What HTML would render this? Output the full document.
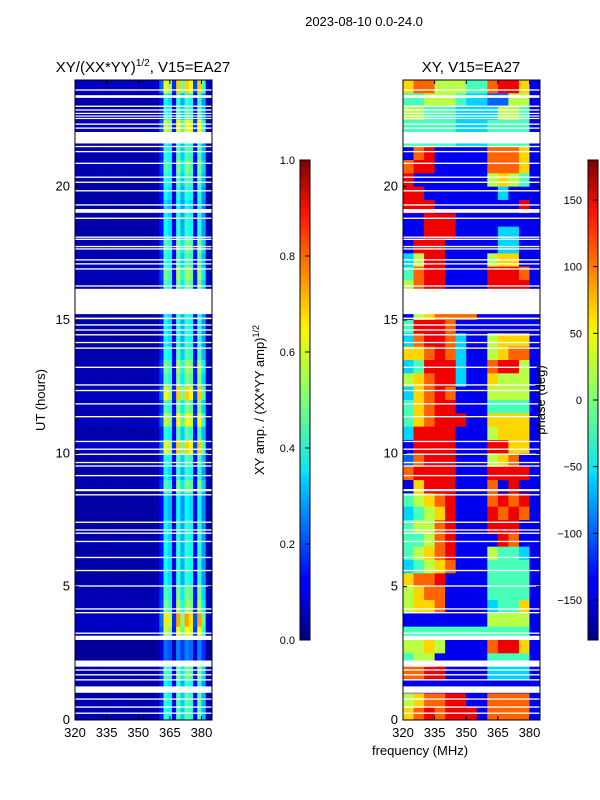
<!DOCTYPE html>
<html><head><meta charset="utf-8">
<style>
body{margin:0;background:#fff;}
svg{display:block;font-family:"Liberation Sans","DejaVu Sans",sans-serif;}
</style></head>
<body>
<svg id="fig" width="600" height="800" viewBox="0 0 600 800" xmlns="http://www.w3.org/2000/svg">
<defs>
<linearGradient id="jet" x1="0" y1="1" x2="0" y2="0">
<stop offset="0" stop-color="#00007f"/><stop offset="0.11" stop-color="#0000ff"/>
<stop offset="0.125" stop-color="#0000ff"/><stop offset="0.34" stop-color="#00d4ff"/>
<stop offset="0.35" stop-color="#0ae4f4"/><stop offset="0.5" stop-color="#7dff7a"/>
<stop offset="0.64" stop-color="#f4f802"/><stop offset="0.66" stop-color="#ffea00"/>
<stop offset="0.89" stop-color="#ff1300"/><stop offset="1" stop-color="#7f0000"/>
</linearGradient>
</defs>
<text x="364" y="26" font-size="13" text-anchor="middle">2023-08-10 0.0-24.0</text>
<text x="143" y="72" font-size="15" text-anchor="middle">XY/(XX*YY)<tspan font-size="10" dy="-6">1/2</tspan><tspan dy="6">, V15=EA27</tspan></text>
<text x="471" y="72" font-size="15" text-anchor="middle">XY, V15=EA27</text>
<g id="ampPanel"></g>
<g id="phasePanel"></g>
<g id="axes"></g>
<text transform="translate(45,400) rotate(-90)" font-size="13" text-anchor="middle">UT (hours)</text>
<text x="420" y="755" font-size="13" text-anchor="middle">frequency (MHz)</text>
<rect x="300" y="160" width="10" height="480" fill="url(#jet)" stroke="#000" stroke-width="1"/>
<rect x="588" y="160" width="10" height="480" fill="url(#jet)" stroke="#000" stroke-width="1"/>
<text transform="translate(264,400) rotate(-90)" font-size="13" text-anchor="middle">XY amp. / (XX*YY amp)<tspan font-size="9" dy="-5">1/2</tspan></text>
<text transform="translate(545,400) rotate(-90)" font-size="13" text-anchor="middle">phase (deg)</text>
<g id="cbars"></g>
</svg>
<script>
// ---- data ----
const freqEdgesAmp = [320,322,324,326,328,330,332,334,336,338,340,342,344,346,348,350,352,354,356,358,360,362,364,366,368,370,372,374,376,378,380,382,384,386];
const ampColumnProfile = [0.04,0.04,0.04,0.04,0.04,0.04,0.04,0.04,0.04,0.04,0.04,0.04,0.04,0.04,0.04,0.04,0.04,0.04,0.04,0.05,0.14,0.38,0.34,0.1,0.42,0.3,0.42,0.38,0.12,0.42,0.28,0.05,0.04];
// row gains, top (24h) to bottom (0h), 0.5h rows
const ampRowGainTopDown = [1.6,1.0,1.1,1.5,1.0,1.1,1.2,1.1,1.0,0.9,1.0,1.0,1.2,1.1,1.3,1.2,1.0,1.0,1.0,1.0,1.1,1.3,1.2,1.6,1.2,1.5,1.1,1.6,1.1,1.0,1.2,0.9,0.9,1.0,1.0,1.0,1.0,1.0,1.2,1.3,1.7,1.5,0.6,0.6,1.2,1.0,1.1,1.1];
const freqEdgesPhase = [320,325,330,335,340,345,350,355,360,365,370,375,380,385];
// phase levels 0..9 -> -180..180, rows top (24h) to bottom (0h)
const phaseLevels = [-175,-140,-100,-60,-20,20,60,100,140,175];
const phaseRowsTopDown = [
"6775554478861","4455543322551","5544433335541","4444433344441","4444433344441",
"1781111177761","7881111177761","8111111156541","8811111113111","8881111111181",
"1188811111111","1188811113311","1888111113311","3588111156611","4788111188871",
"5788111188881","5788111188881","1567777111111","4888711111111","3788731156661",
"6678731156771","3488831178851","5678831165551","3678711155551","4678811144441",
"4678881166661","3888811156661","1888811188661","2788811156711","7888811188881",
"1688811171811","4567811178781","3456811187871","4557811188811","4457811118711",
"4567811154431","3456711144441","6778111144441","5677111144441","5667111134461",
"1111111155551","4444444444441","5565111178861","4551111144441","7788111133331",
"1111111111111","5677881177771","6787888177771"];
// blank (flagged) time ranges in hours
const gapStart = [23.60,23.33,22.99,22.85,22.73,22.63,22.54,22.32,22.17,21.62,21.48,21.29,20.85,20.33,20.14,19.82,19.29,19.02,18.79,18.08,18.00,17.73,17.64,17.23,17.08,16.89,16.25,15.22,15.03,14.79,14.60,14.42,14.13,13.92,13.20,12.54,12.33,11.83,11.35,10.42,10.13,9.94,9.63,9.50,9.14,8.58,8.42,7.39,7.10,6.98,6.67,6.07,5.58,5.00,4.14,4.00,3.23,3.00,2.00,1.85,1.67,1.48,1.02,0.76,0.46,0.23];
const gapEnd   = [23.65,23.43,23.04,22.90,22.77,22.67,22.58,22.37,22.22,22.05,21.53,21.34,20.90,20.38,20.19,19.87,19.34,19.16,18.84,18.13,18.05,17.78,17.69,17.28,17.13,16.94,16.30,16.17,15.09,14.84,14.65,14.47,14.18,13.97,13.25,12.59,12.38,11.88,11.40,10.47,10.18,9.99,9.68,9.55,9.19,8.66,8.47,7.44,7.15,7.03,6.72,6.12,5.63,5.05,4.19,4.05,3.28,3.16,2.23,1.90,1.72,1.53,1.26,0.81,0.51,0.28];
const yTicks = [0,5,10,15,20];
const xTicks = [320,335,350,365,380];
const ampCbTicks = [0.0,0.2,0.4,0.6,0.8,1.0];
const phaseCbTicks = [-150,-100,-50,0,50,100,150];

// ---- scales ----
const NS="http://www.w3.org/2000/svg";
const PY0=80, PY1=720;
const yScale = h => PY1 - (h/24)*(PY1-PY0);
const panels = [{x0:75,x1:212},{x0:403,x1:540}];
const xScale = (p,f) => p.x0 + (f-320)/(385-320)*(p.x1-p.x0);
function jet(v){v=Math.max(0,Math.min(1,v));
 const r=Math.min(4*v-1.5,-4*v+4.5),g=Math.min(4*v-0.5,-4*v+3.5),b=Math.min(4*v+0.5,-4*v+2.5);
 const c=x=>Math.round(255*Math.max(0,Math.min(1,x)));return `rgb(${c(r)},${c(g)},${c(b)})`;}
function mk(tag,attrs,parent){const e=document.createElementNS(NS,tag);for(const k in attrs)e.setAttribute(k,attrs[k]);parent.appendChild(e);return e;}

// amp heatmap
const gA=document.getElementById('ampPanel');
ampRowGainTopDown.forEach((g,i)=>{
 const tTop=24-i*0.5, tBot=tTop-0.5;
 for(let c=0;c<ampColumnProfile.length;c++){
  const xa=xScale(panels[0],freqEdgesAmp[c]), xb=Math.min(xScale(panels[0],freqEdgesAmp[c+1]),panels[0].x1);
  if(xb<=xa) continue;
  const r=mk('rect',{x:xa,y:yScale(tTop),width:xb-xa+0.3,height:yScale(tBot)-yScale(tTop)+0.3,fill:jet(ampColumnProfile[c]*g)},gA);
  
  
 }
});
// phase heatmap
const gP=document.getElementById('phasePanel');
phaseRowsTopDown.forEach((row,i)=>{
 const tTop=24-i*0.5, tBot=tTop-0.5;
 for(let c=0;c<row.length;c++){
  const ph=phaseLevels[+row[c]];
  const xa=xScale(panels[1],freqEdgesPhase[c]), xb=Math.min(xScale(panels[1],freqEdgesPhase[c+1]),panels[1].x1);
  const r=mk('rect',{x:xa,y:yScale(tTop),width:xb-xa+0.3,height:yScale(tBot)-yScale(tTop)+0.3,fill:jet((ph+180)/360)},gP);
  
  
 }
});
// gaps
const gAx=document.getElementById('axes');
panels.forEach(p=>{
 gapStart.forEach((s,i)=>{
  const r=mk('rect',{x:p.x0,y:yScale(gapEnd[i]),width:p.x1-p.x0,height:Math.max(1.2,yScale(s)-yScale(gapEnd[i])),fill:'#fff'},gAx);
  
  
 });
});
// axes frames and ticks
panels.forEach((p,pi)=>{
 const f=mk('rect',{x:p.x0,y:PY0,width:p.x1-p.x0,height:PY1-PY0,fill:'none',stroke:'#000','stroke-width':1},gAx);
 
 
 yTicks.forEach(t=>{
  const y=yScale(t);
  mk('line',{x1:p.x0,x2:p.x0+4,y1:y,y2:y,stroke:'#000'},gAx);
  mk('line',{x1:p.x1,x2:p.x1-4,y1:y,y2:y,stroke:'#000'},gAx);
  const tx=mk('text',{x:p.x0-5,y:y+4,'font-size':13,'text-anchor':'end'},gAx);
  tx.textContent=t;
  
  
 });
 xTicks.forEach(t=>{
  const x=xScale(p,t);
  mk('line',{x1:x,x2:x,y1:PY1,y2:PY1-4,stroke:'#000'},gAx);
  mk('line',{x1:x,x2:x,y1:PY0,y2:PY0+4,stroke:'#000'},gAx);
  const tx=mk('text',{x:x,y:PY1+17,'font-size':13,'text-anchor':'middle'},gAx);
  tx.textContent=t;
  
  
 });
});
// colorbar ticks
const gC=document.getElementById('cbars');
ampCbTicks.forEach(t=>{
 const y=640-t*480;
 mk('line',{x1:305,x2:310,y1:y,y2:y,stroke:'#000'},gC);
 const tx=mk('text',{x:295,y:y+4,'font-size':11,'text-anchor':'end'},gC);
 tx.textContent=t.toFixed(1);
 
 
});
phaseCbTicks.forEach(t=>{
 const y=400-t*480/360;
 mk('line',{x1:593,x2:598,y1:y,y2:y,stroke:'#000'},gC);
 const tx=mk('text',{x:582,y:y+4,'font-size':11,'text-anchor':'end'},gC);
 tx.textContent=t<0?'\u2212'+(-t):t;
 
 
});
</script>
</body></html>
